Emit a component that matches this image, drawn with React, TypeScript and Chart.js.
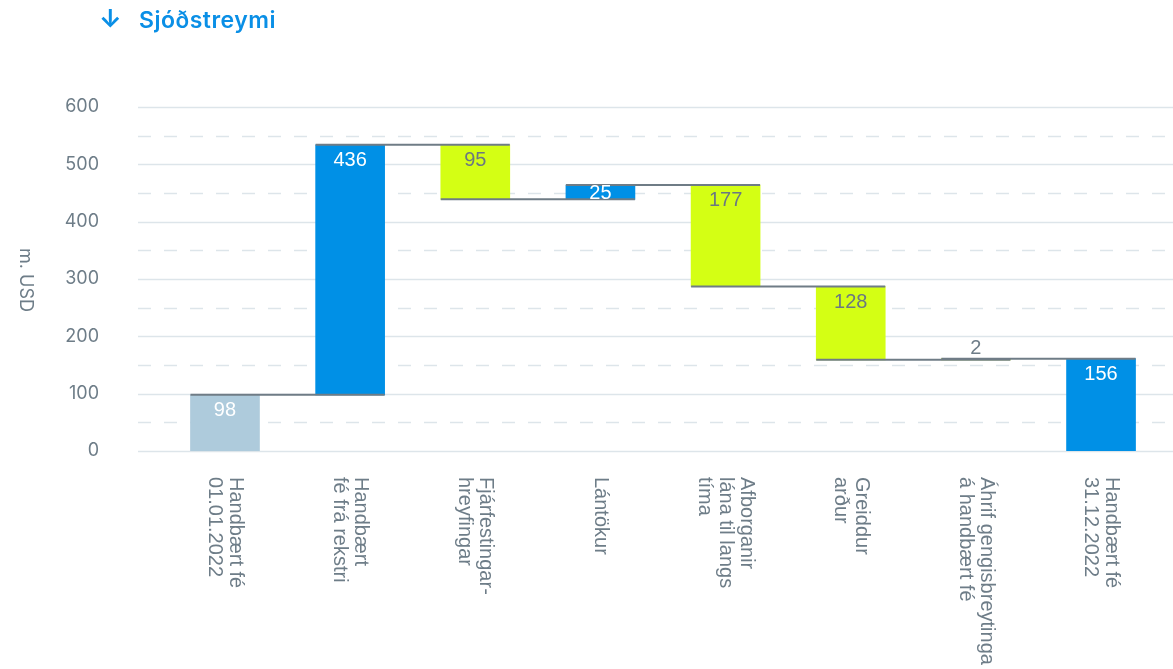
import React, { useEffect, useRef } from "react";
import { Chart, registerables } from "chart.js";

Chart.register(...registerables);

// ---- data ----
const categories: string[][] = [
  ["Handbært fé", "01.01.2022"],
  ["Handbært", "fé frá rekstri"],
  ["Fjárfestingar-", "hreyfingar"],
  ["Lántökur"],
  ["Afborganir", "lána til langs", "tíma"],
  ["Greiddur", "arður"],
  ["Áhrif gengisbreytinga", "á handbært fé"],
  ["Handbært fé", "31.12.2022"],
];
// opening balance followed by the period movements (as drawn)
const steps: number[] = [98, 436, -95, 25, -177, -128, 2];
const valueLabels: string[] = ["98", "436", "95", "25", "177", "128", "2", "156"];
const barKinds: string[] = ["opening", "inflow", "outflow", "inflow", "outflow", "outflow", "outflow", "closing"];
const yMin = 0;
const yMax = 600;
const yTickStep = 100;
const yGridStep = 50;
const yTitle = "m. USD";
const chartTitle = "Sjóðstreymi";

// ---- styles ----
const COLORS: Record<string, string> = {
  opening: "#aecbdc",
  inflow: "#0090e6",
  outflow: "#d4ff14",
  closing: "#0090e6",
};
const LABEL_COLORS: Record<string, string> = {
  opening: "#ffffff",
  inflow: "#ffffff",
  outflow: "#6b7882",
  closing: "#ffffff",
};
const GRAY = "#6e7d88";
const GRID = "#dde5ea";
const CONNECTOR = "#6f7c86";

// build floating ranges
const ranges: [number, number][] = [];
const levels: number[] = [];
{
  let cum = 0;
  steps.forEach((s, i) => {
    if (i === 0) {
      ranges.push([0, s]);
      cum = s;
    } else {
      ranges.push([Math.min(cum, cum + s), Math.max(cum, cum + s)]);
      cum += s;
    }
    levels.push(cum);
  });
  ranges.push([0, cum]);
}

const waterfallPlugin = {
  id: "waterfallExtras",
  beforeDatasetsDraw(chart: any) {
    const { ctx, chartArea, scales } = chart;
    const y = scales.y;
    ctx.save();
    for (let v = yMin; v <= yMax; v += yGridStep) {
      const py = Math.round(y.getPixelForValue(v)) + 0.5;
      ctx.beginPath();
      ctx.strokeStyle = GRID;
      ctx.lineWidth = 1.5;
      ctx.setLineDash(v % yTickStep === 0 ? [] : [13, 13]);
      ctx.moveTo(chartArea.left, py);
      ctx.lineTo(chartArea.right, py);
      ctx.stroke();
    }
    ctx.restore();
  },
  afterDatasetsDraw(chart: any) {
    const { ctx, scales } = chart;
    const y = scales.y;
    const meta = chart.getDatasetMeta(0);
    const els = meta.data;
    ctx.save();
    // connectors
    ctx.strokeStyle = CONNECTOR;
    ctx.lineWidth = 2;
    ctx.setLineDash([]);
    for (let i = 0; i < levels.length; i++) {
      const a = els[i];
      const b = els[i + 1];
      if (!a || !b) continue;
      const py = y.getPixelForValue(levels[i]);
      ctx.beginPath();
      ctx.moveTo(a.x - a.width / 2, py);
      ctx.lineTo(b.x + b.width / 2, py);
      ctx.stroke();
    }
    // value labels
    ctx.font = "20px 'Liberation Sans', Arial, sans-serif";
    ctx.textAlign = "center";
    ctx.textBaseline = "middle";
    els.forEach((el: any, i: number) => {
      const top = Math.min(el.y, el.base);
      const h = Math.abs(el.base - el.y);
      let cy: number;
      let color = LABEL_COLORS[barKinds[i]];
      if (h >= 30) cy = top + 15;
      else if (h >= 12) cy = top + h / 2;
      else {
        cy = top - 11;
        color = GRAY;
      }
      ctx.fillStyle = color;
      ctx.fillText(valueLabels[i], el.x, cy + 1);
    });
    ctx.restore();
  },
  afterDraw(chart: any) {
    const { ctx, chartArea, scales } = chart;
    const x = scales.x;
    ctx.save();
    ctx.fillStyle = GRAY;
    ctx.font = "20px 'Liberation Sans', Arial, sans-serif";
    ctx.textAlign = "left";
    ctx.textBaseline = "middle";
    const lh = 21;
    categories.forEach((lines, i) => {
      const cx = x.getPixelForValue(i);
      ctx.save();
      ctx.translate(cx, chartArea.bottom + 26);
      ctx.rotate(Math.PI / 2);
      lines.forEach((t, j) => {
        const off = (j - (lines.length - 1) / 2) * lh;
        ctx.fillText(t, 0, off);
      });
      ctx.restore();
    });
    // y title
    ctx.font = "18px Inter, sans-serif";
    ctx.textAlign = "center";
    ctx.save();
    ctx.translate(25, (chartArea.top + chartArea.bottom) / 2 + 1);
    ctx.rotate(Math.PI / 2);
    ctx.fillText(yTitle, 0, 0);
    ctx.restore();
    ctx.restore();
  },
};

export default function App() {
  const ref = useRef<HTMLCanvasElement | null>(null);
  useEffect(() => {
    if (!ref.current) return;
    const chart = new Chart(ref.current, {
      type: "bar",
      data: {
        datasets: [
          {
            data: ranges.map((r, i) => ({ x: i, y: r })) as any,
            backgroundColor: barKinds.map((k) => COLORS[k]),
            borderWidth: 0,
            barThickness: 69,
            borderSkipped: false,
          },
        ],
      },
      options: {
        animation: false,
        responsive: true,
        maintainAspectRatio: false,
        layout: { padding: { top: 107, right: 0, bottom: 0, left: 0 } },
        plugins: {
          legend: { display: false },
          tooltip: { enabled: false },
          title: { display: false },
        },
        scales: {
          x: {
            type: "linear",
            offset: false,
            min: -0.695,
            max: 7.575,
            grid: { display: false, drawTicks: false, offset: false },
            border: { display: false },
            ticks: { display: false },
            afterFit: (s: any) => {
              s.height = 218;
            },
          },
          y: {
            min: yMin,
            max: yMax,
            grid: { display: false, drawTicks: false },
            border: { display: false },
            ticks: {
              stepSize: yTickStep,
              padding: 39,
              color: GRAY,
              font: { family: "Inter", size: 18 },
            },
            afterFit: (s: any) => {
              s.width = 138;
            },
          },
        },
      },
      plugins: [waterfallPlugin],
    });
    return () => chart.destroy();
  }, []);

  return (
    <div style={{ position: "absolute", left: 0, top: 0, width: 1173, height: 669, background: "#fff" }}>
      <div style={{ position: "absolute", left: 0, top: 0, width: 1173, height: 669 }}>
        <canvas ref={ref} />
      </div>
      <div
        style={{
          position: "absolute",
          left: 99,
          top: 6,
          fontFamily: "Inter, sans-serif",
          fontSize: 23,
          lineHeight: "26px",
          color: "#0a8fe6",
          whiteSpace: "nowrap",
        }}
      >
        <span style={{ display: "inline-block", width: 40, fontSize: 25, fontWeight: 700 }}>↓</span>
        <span style={{ fontWeight: 600, letterSpacing: "0.5px" }}>{chartTitle}</span>
      </div>
    </div>
  );
}
